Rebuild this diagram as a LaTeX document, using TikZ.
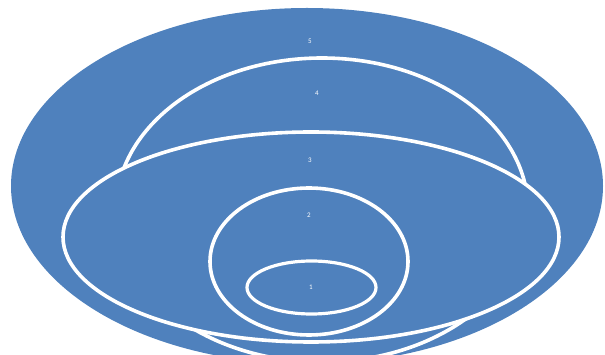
\documentclass[tikz,border=0pt]{standalone}
\usepackage{fontspec}
\setmainfont{Carlito}
\definecolor{ringblue}{RGB}{79,129,189}
\begin{document}
\begin{tikzpicture}[x=1pt,y=-1pt,
  ring/.style={fill=ringblue,draw=white,line width=3.6pt},
  lbl/.style={text=white,font=\fontsize{7}{8}\selectfont,inner sep=0pt}]
\useasboundingbox (0,0) rectangle (605,355);
\clip (0,0) rectangle (605,355);
% level 5
\fill[ringblue] (307,186) ellipse [x radius=296pt, y radius=178pt];
% level 4
\path[ring] (322,210) ellipse [x radius=206pt, y radius=152pt];
% level 3
\path[ring] (311,237) ellipse [x radius=248pt, y radius=105pt];
% level 2
\path[ring] (309,261.5) ellipse [x radius=99pt, y radius=73.5pt];
% level 1
\path[ring,line width=3.2pt] (311.5,287.5) ellipse [x radius=64.5pt, y radius=26.5pt];
% labels
\node[lbl] (l5) at (310,41) {5};
\node[lbl] (l4) at (317,93) {4};
\node[lbl] (l3) at (310,160) {3};
\node[lbl] (l2) at (309,215) {2};
\node[lbl] (l1) at (311,287) {1};
\end{tikzpicture}
\end{document}
